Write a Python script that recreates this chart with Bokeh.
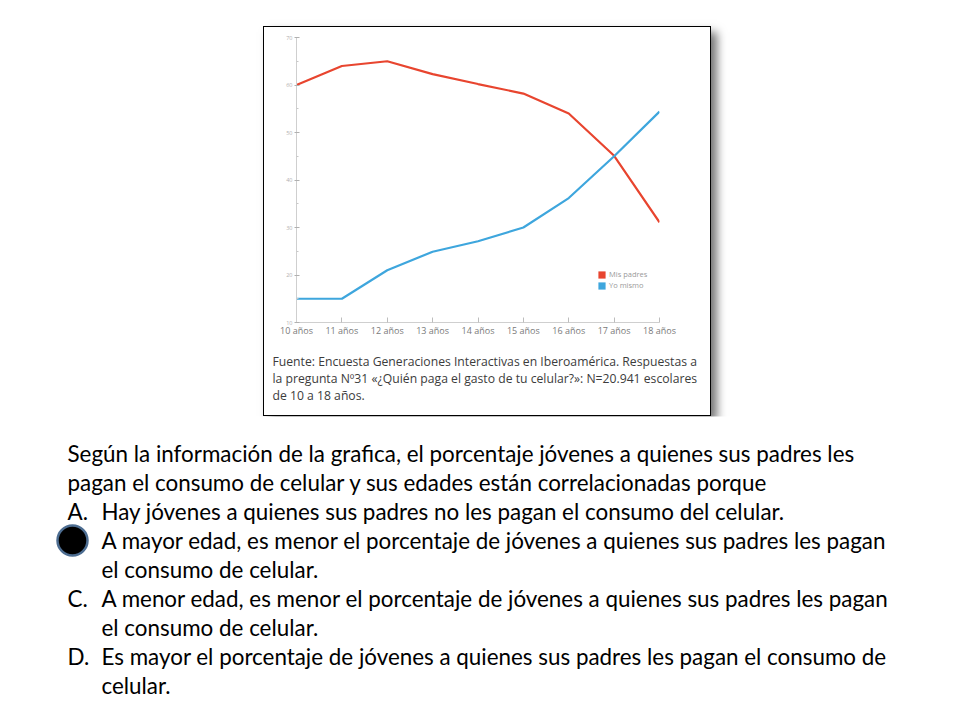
from bokeh.plotting import figure
from bokeh.models import (Range1d, FixedTicker, Legend, LegendItem, Title, Spacer)
from bokeh.layouts import column, row
from bokeh.core.properties import value
from bokeh.embed import file_html
from bokeh.resources import INLINE

# ---- data ----
ages = ["10 años", "11 años", "12 años", "13 años", "14 años",
        "15 años", "16 años", "17 años", "18 años"]
mis_padres = [60, 64, 65, 62.3, 60.2, 58.2, 54, 45.1, 31.1]
yo_mismo = [15, 15, 21, 24.9, 27.1, 30, 36.2, 45, 54.4]
y_ticks = [10, 20, 30, 40, 50, 60, 70]
series_names = ["Mis padres", "Yo mismo"]
source_lines = [
    "Fuente: Encuesta Generaciones Interactivas en Iberoamérica. Respuestas a",
    "la pregunta Nº31 «¿Quién paga el gasto de tu celular?»: N=20.941 escolares",
    "de 10 a 18 años.",
]
question_lines = [
    ("", "Según la información de la grafica, el porcentaje jóvenes a quienes sus padres les"),
    ("", "pagan el consumo de celular y sus edades están correlacionadas porque"),
    ("A.", "Hay jóvenes a quienes sus padres no les pagan el consumo del celular."),
    ("B.", "A mayor edad, es menor el porcentaje de jóvenes a quienes sus padres les pagan"),
    ("", "el consumo de celular."),
    ("C.", "A menor edad, es menor el porcentaje de jóvenes a quienes sus padres les pagan"),
    ("", "el consumo de celular."),
    ("D.", "Es mayor el porcentaje de jóvenes a quienes sus padres les pagan el consumo de"),
    ("", "celular."),
]
selected = "B."

RED = "#e8452f"
BLUE = "#3ea6dd"
xs = list(range(10, 10 + len(ages)))
nan = float("nan")

# ---- chart ----
p = figure(width=448, height=390, output_backend="svg", toolbar_location=None,
           x_range=Range1d(xs[0], xs[-1]), y_range=Range1d(y_ticks[0], y_ticks[-1]),
           min_border_left=32, min_border_right=53, min_border_top=10,
           min_border_bottom=95,
           styles={"border": "1px solid #000", "box-sizing": "border-box",
                   "box-shadow": "6px 6px 9px rgba(0,0,0,0.55)"})
p.outline_line_color = None
p.xgrid.visible = False
p.ygrid.visible = False

p.line(xs, mis_padres, line_color=RED, line_width=2.2)
p.line(xs, yo_mismo, line_color=BLUE, line_width=2.2)
# legend swatches only (no visible data)
sw1 = p.quad(left=[nan], right=[nan], top=[nan], bottom=[nan],
             fill_color=RED, line_color=None)
sw2 = p.quad(left=[nan], right=[nan], top=[nan], bottom=[nan],
             fill_color=BLUE, line_color=None)

p.xaxis.ticker = FixedTicker(ticks=xs)
p.xaxis.major_label_overrides = {x: lab for x, lab in zip(xs, ages)}
p.xaxis.axis_line_color = "#cfcfcf"
p.xaxis.major_tick_line_color = "#bdbdbd"
p.xaxis.major_tick_in = 5
p.xaxis.major_tick_out = 0
p.xaxis.minor_tick_line_color = None
p.xaxis.major_label_text_font = "Open Sans"
p.xaxis.major_label_text_font_size = "9px"
p.xaxis.major_label_text_color = "#7a7a7a"
p.xaxis.major_label_standoff = 1

minor = [y + 5 for y in y_ticks[:-1]]
p.yaxis.ticker = FixedTicker(ticks=y_ticks, minor_ticks=minor)
p.yaxis.axis_line_color = "#cfcfcf"
p.yaxis.major_tick_line_color = "#b0b0b0"
p.yaxis.major_tick_in = 3
p.yaxis.major_tick_out = 2
p.yaxis.minor_tick_line_color = "#c8c8c8"
p.yaxis.minor_tick_in = 2
p.yaxis.minor_tick_out = 0
p.yaxis.major_label_text_font = "Open Sans"
p.yaxis.major_label_text_font_size = "5.5px"
p.yaxis.major_label_text_color = "#b0b0b0"
p.yaxis.major_label_standoff = 2

legend = Legend(items=[LegendItem(label=series_names[0], renderers=[sw1]),
                       LegendItem(label=series_names[1], renderers=[sw2])],
                location=(301, 32), orientation="vertical",
                glyph_width=9, glyph_height=9, label_text_font_size="7.5px",
                label_text_font="Open Sans", label_text_color="#9a9a9a",
                label_standoff=3, spacing=1, padding=2, margin=0,
                border_line_color=None, background_fill_alpha=0)
p.add_layout(legend)

p.add_layout(Title(text="\n".join(source_lines), align="left", offset=-24,
                   text_font="Open Sans", text_font_style="normal",
                   text_font_size="12.2px", text_color="#3c3c3c",
                   text_line_height=1.02, standoff=22), "below")

# ---- question text ----
t = figure(width=944, height=296, output_backend="svg", toolbar_location=None,
           x_range=Range1d(0, 944), y_range=Range1d(712, 416),
           min_border=0)
t.axis.visible = False
t.grid.visible = False
t.outline_line_color = None

y0 = 453
for i, (mark, line) in enumerate(question_lines):
    yy = y0 + i * 29
    tx = 67 if (mark == "" and i < 2) else 101
    if mark == selected:
        t.scatter([72], [yy], size=30, fill_color="#000000",
                  line_color="#4d6d91", line_width=2.5)
    elif mark:
        t.text([67], [yy], text=[mark], text_font=value("Lato"),
               text_font_size="22.4px", text_baseline="middle", text_color="#000000")
    t.text([tx], [yy], text=[line], text_font=value("Lato"),
           text_font_size="22.4px", text_baseline="middle", text_color="#000000")

layout = column(Spacer(height=26),
                row(Spacer(width=263), p),
                t)

open("out.html", "w").write(file_html(layout, INLINE))
